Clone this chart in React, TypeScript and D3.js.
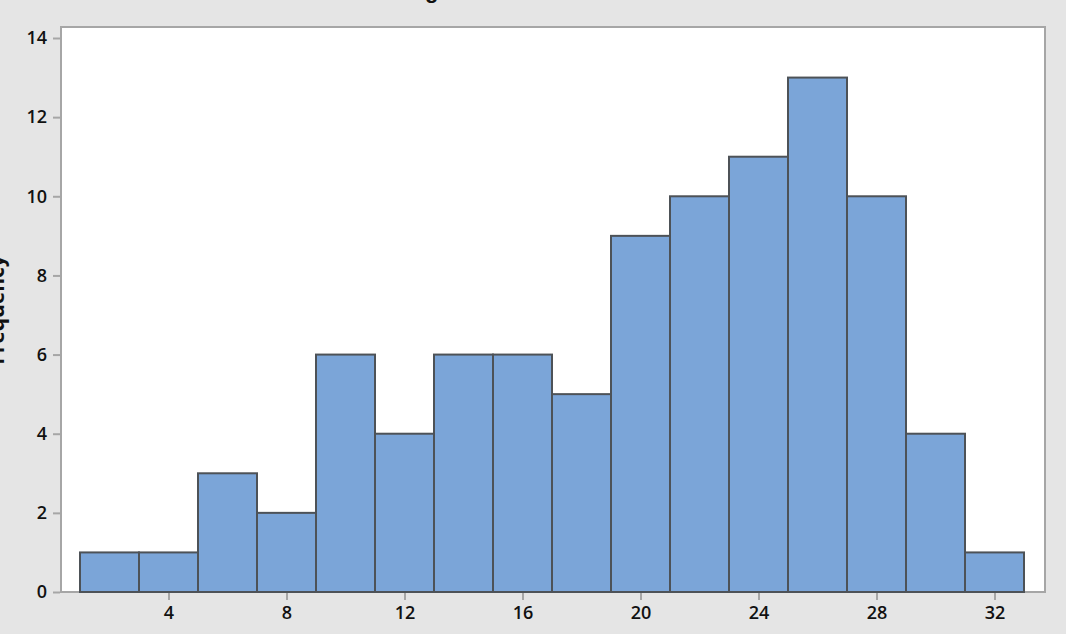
import React, { useRef, useEffect } from 'react';
import * as d3 from 'd3';

// histogram bins (lower edge, upper edge) and counts
const binStarts = [1, 3, 5, 7, 9, 11, 13, 15, 17, 19, 21, 23, 25, 27, 29, 31];
const binWidth = 2;
const counts = [1, 1, 3, 2, 6, 4, 6, 6, 5, 9, 10, 11, 13, 10, 4, 1];
const xTicks = [4, 8, 12, 16, 20, 24, 28, 32];
const yTicks = [0, 2, 4, 6, 8, 10, 12, 14];

function App() {
  const svgRef = useRef(null);

  useEffect(() => {
    const w = 1066;
    const h = 634;
    // plot frame
    const frame = { left: 61, top: 27, right: 1045, bottom: 592 };

    const svg = d3
      .select(svgRef.current)
      .attr('width', w)
      .attr('height', h)
      .style('background', '#e5e5e5')
      .style('display', 'block');
    svg.selectAll('*').remove();

    const xScale = d3.scaleLinear().domain([1, 33]).range([80, 1024]);
    const yScale = d3.scaleLinear().domain([0, 14]).range([592, 38]);

    // white plot area
    svg
      .append('rect')
      .attr('x', frame.left)
      .attr('y', frame.top)
      .attr('width', frame.right - frame.left)
      .attr('height', frame.bottom - frame.top)
      .attr('fill', 'white')
      .attr('stroke', '#a6a6a6')
      .attr('stroke-width', 2);

    // bars
    svg
      .selectAll('.bar')
      .data(counts)
      .join('rect')
      .attr('class', 'bar')
      .attr('x', (d, i) => xScale(binStarts[i]))
      .attr('width', (d, i) => xScale(binStarts[i] + binWidth) - xScale(binStarts[i]))
      .attr('y', (d) => yScale(d))
      .attr('height', (d) => yScale(0) - yScale(d))
      .attr('fill', '#7ba5d8')
      .attr('stroke', '#4d5257')
      .attr('stroke-width', 2);

    // x axis
    const xAxis = d3
      .axisBottom(xScale)
      .tickValues(xTicks)
      .tickSize(7)
      .tickPadding(6)
      .tickFormat((d: any) => String(d));
    const gx = svg
      .append('g')
      .attr('transform', `translate(0, ${frame.bottom + 1})`)
      .call(xAxis);
    gx.select('.domain').remove();

    // y axis
    const yAxis = d3
      .axisLeft(yScale)
      .tickValues(yTicks)
      .tickSize(7)
      .tickPadding(6)
      .tickFormat((d: any) => String(d));
    const gy = svg
      .append('g')
      .attr('transform', `translate(${frame.left - 1}, 0)`)
      .call(yAxis);
    gy.select('.domain').remove();

    [gx, gy].forEach((g) => {
      g.selectAll('line').attr('stroke', '#a6a6a6').attr('stroke-width', 2);
      g.selectAll('text')
        .attr('fill', '#111')
        .style('font-family', '"Open Sans", sans-serif')
        .style('font-weight', '600')
        .style('font-size', '18px');
    });

    // y axis label, mostly off the left edge
    svg
      .append('text')
      .attr('transform', 'translate(4, 310) rotate(-90)')
      .attr('text-anchor', 'middle')
      .style('font-family', '"Open Sans", sans-serif')
      .style('font-weight', 'bold')
      .style('font-size', '21px')
      .attr('fill', '#111')
      .text('Frequency');

    // title, mostly above the top edge
    svg
      .append('text')
      .attr('x', 370)
      .attr('y', -2)
      .style('font-family', '"Liberation Sans", sans-serif')
      .style('font-weight', 'bold')
      .style('font-size', '22px')
      .attr('fill', '#111')
      .text('Histogram of Data');
  }, []);

  return (
    <div style={{ position: 'fixed', left: 0, top: 0 }}>
      <svg ref={svgRef}></svg>
    </div>
  );
}

export default App;
